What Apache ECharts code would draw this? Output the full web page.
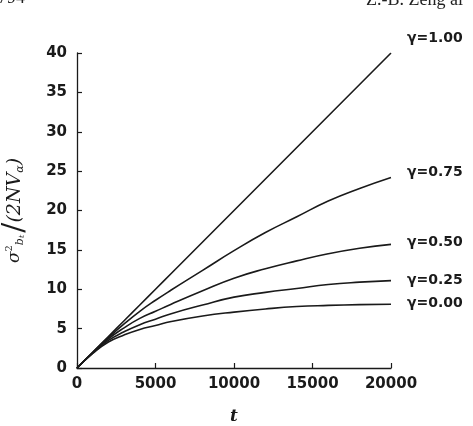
<!DOCTYPE html>
<html>
<head>
<meta charset="utf-8">
<script src="https://cdn.jsdelivr.net/npm/echarts@6/dist/echarts.min.js"></script>
<style>
  html, body { margin: 0; padding: 0; background: #fff; }
  #chart { width: 473px; height: 426px; }
</style>
</head>
<body>
<div id="chart"></div>
<script>
// values
const tValues = [0, 1000, 2000, 3000, 4000, 5000, 6000, 8000, 10000, 12000, 14000, 16000, 18000, 20000];
const gamma100 = [0, 2, 4, 6, 8, 10, 12, 16, 20, 24, 28, 32, 36, 40];
const gamma075 = [0, 1.97, 3.85, 5.6, 7.2, 8.6, 9.9, 12.4, 14.9, 17.2, 19.2, 21.2, 22.8, 24.2];
const gamma050 = [0, 1.95, 3.7, 5.1, 6.3, 7.2, 8.1, 9.8, 11.4, 12.6, 13.6, 14.5, 15.2, 15.7];
const gamma025 = [0, 1.9, 3.5, 4.6, 5.5, 6.2, 6.9, 8.0, 9.0, 9.6, 10.1, 10.6, 10.9, 11.1];
const gamma000 = [0, 1.85, 3.3, 4.2, 4.9, 5.4, 5.9, 6.6, 7.1, 7.5, 7.8, 7.95, 8.05, 8.1];
const seriesNames = ['γ=1.00', 'γ=0.75', 'γ=0.50', 'γ=0.25', 'γ=0.00'];
const xTicks = [0, 5000, 10000, 15000, 20000];
const yTicks = [0, 5, 10, 15, 20, 25, 30, 35, 40];

const chart = echarts.init(document.getElementById('chart'));

const labelFont = 'DejaVu Sans';
const ink = '#1a1a1a';

function makeSeries(name, values, offset) {
  return {
    name: name,
    type: 'line',
    smooth: true,
    symbol: 'none',
    data: tValues.map((t, i) => [t, values[i]]),
    lineStyle: { color: ink, width: 1.6 },
    endLabel: {
      show: true,
      formatter: '{a}',
      distance: 16,
      offset: offset,
      color: ink,
      fontFamily: labelFont,
      fontWeight: 'bold',
      fontSize: 14
    },
    animation: false
  };
}

const serif = 'DejaVu Serif';

const option = {
  backgroundColor: '#fff',
  animation: false,
  grid: { left: 77, right: 82, top: 53, bottom: 58, outerBoundsMode: 'none' },
  xAxis: {
    type: 'value',
    min: 0,
    max: 20000,
    interval: 5000,
    name: 't',
    nameLocation: 'middle',
    nameGap: 40,
    nameTextStyle: {
      fontFamily: serif,
      fontStyle: 'italic',
      fontWeight: 'bold',
      fontSize: 17,
      color: ink
    },
    axisLine: { lineStyle: { color: ink, width: 1.3 } },
    axisTick: { inside: true, length: 5, lineStyle: { color: ink, width: 1.2 } },
    axisLabel: {
      margin: 9,
      color: ink,
      fontFamily: labelFont,
      fontWeight: 'bold',
      fontSize: 15,
      customValues: xTicks,
      formatter: v => String(v)
    },
    splitLine: { show: false }
  },
  yAxis: {
    type: 'value',
    min: 0,
    max: 40,
    interval: 5,
    name: '{s|σ}{sup|2}{b|b}{t|t}{gap| }{sl|/}{n|(2NV}{a|α}{n|)}',
    nameLocation: 'middle',
    nameGap: 51,
    nameRotate: 90,
    nameTextStyle: {
      color: ink,
      rich: {
        s: { fontFamily: serif, fontStyle: 'italic', fontSize: 17, lineHeight: 22, color: ink, verticalAlign: 'middle' },
        sup: { fontFamily: serif, fontSize: 10, color: ink, verticalAlign: 'top' },
        b: { fontFamily: serif, fontStyle: 'italic', fontSize: 11, color: ink, verticalAlign: 'bottom' },
        t: { fontFamily: serif, fontStyle: 'italic', fontSize: 8, color: ink, verticalAlign: 'bottom' },
        gap: { fontSize: 8, lineHeight: 22 },
        sl: { fontFamily: serif, fontSize: 30, lineHeight: 22, color: ink, verticalAlign: 'middle' },
        n: { fontFamily: serif, fontStyle: 'italic', fontSize: 19, lineHeight: 22, color: ink, verticalAlign: 'middle' },
        a: { fontFamily: serif, fontStyle: 'italic', fontSize: 11, color: ink, verticalAlign: 'bottom' }
      }
    },
    axisLine: { show: true, lineStyle: { color: ink, width: 1.3 } },
    axisTick: { show: true, inside: true, length: 5, lineStyle: { color: ink, width: 1.2 } },
    axisLabel: {
      margin: 10,
      color: ink,
      fontFamily: labelFont,
      fontWeight: 'bold',
      fontSize: 15,
      customValues: yTicks
    },
    splitLine: { show: false }
  },
  graphic: [
    {
      type: 'text',
      left: -2,
      top: -11,
      style: { text: '794', font: '18px "Liberation Serif"', fill: '#222' }
    },
    {
      type: 'text',
      left: 366,
      top: -9,
      style: { text: 'Z.-B. Zeng al', font: '18px "Liberation Serif"', fill: '#222' }
    }
  ],
  series: [
    makeSeries(seriesNames[0], gamma100, [0, -15]),
    makeSeries(seriesNames[1], gamma075, [0, -5]),
    makeSeries(seriesNames[2], gamma050, [0, -2]),
    makeSeries(seriesNames[3], gamma025, [0, 0]),
    makeSeries(seriesNames[4], gamma000, [0, -1])
  ]
};

chart.setOption(option);
</script>
</body>
</html>
